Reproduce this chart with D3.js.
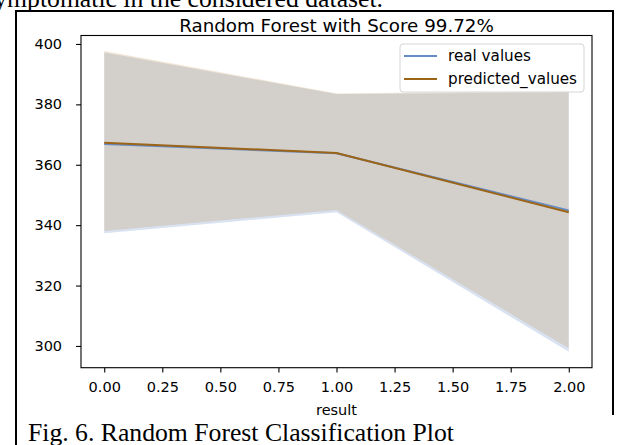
<!DOCTYPE html>
<html>
<head>
<meta charset="utf-8">
<script src="https://cdn.jsdelivr.net/npm/d3@7/dist/d3.min.js"></script>
<style>
  html, body { margin: 0; padding: 0; background: #fff; }
  svg { display: block; }
</style>
</head>
<body>
<svg id="chart" width="624" height="445"></svg>
<script>
// Class index on the x axis
const categories = [0, 1, 2];
// Mean values per class and their spread bands
const realValues = [366.9, 363.8, 344.9];
const predictedValues = [367.3, 363.9, 344.3];
const realLower = [337.3, 344.3, 298.1];
const realUpper = [397.2, 383.4, 384.0];
const predLower = [338.1, 345.0, 299.2];
const predUpper = [397.7, 383.6, 384.5];
// Tick labels
const xTicks = [0, 0.25, 0.5, 0.75, 1, 1.25, 1.5, 1.75, 2];
const yTicks = [300, 320, 340, 360, 380, 400];
const seriesNames = ["real values", "predicted_values"];

const svg = d3.select("#chart");
const sans = "DejaVu Sans, sans-serif";
const serif = "Liberation Serif, Times New Roman, serif";

// Running text of the page above and below the figure
svg.append("text")
  .attr("x", 383).attr("y", 7)
  .attr("text-anchor", "end")
  .attr("font-family", serif).attr("font-size", 25.7)
  .attr("fill", "#000")
  .text("symptomatic in the considered dataset.");

// Page frame around the figure
svg.append("path")
  .attr("d", "M16,445 V11 H613 V415")
  .attr("fill", "none").attr("stroke", "#000").attr("stroke-width", 2);

svg.append("text")
  .attr("x", 28).attr("y", 441)
  .attr("font-family", serif).attr("font-size", 25.7)
  .attr("fill", "#000")
  .text("Fig. 6. Random Forest Classification Plot");

// Plot area
const plotLeft = 81, plotRight = 592, plotTop = 35.5, plotBottom = 367.7;
const x = d3.scaleLinear().domain([-0.1, 2.1]).range([plotLeft, plotRight]);
const y = d3.scaleLinear().domain([292.8, 402.8]).range([plotBottom, plotTop]);

const band = (lo, hi) => d3.area()
  .x((d, i) => x(categories[i]))
  .y0((d, i) => y(lo[i]))
  .y1((d, i) => y(hi[i]));

const blue = "#668cc8";
const brown = "#9b6416";

svg.append("path")
  .datum(categories)
  .attr("d", band(realLower, realUpper))
  .attr("fill", "rgb(120,150,205)").attr("fill-opacity", 0.28);
svg.append("path")
  .datum(categories)
  .attr("d", band(predLower, predUpper))
  .attr("fill", "rgb(190,135,60)").attr("fill-opacity", 0.21);

const line = vals => d3.line()
  .x((d, i) => x(categories[i]))
  .y((d, i) => y(vals[i]));

svg.append("path").datum(categories)
  .attr("d", line(realValues))
  .attr("fill", "none").attr("stroke", blue).attr("stroke-width", 2);
svg.append("path").datum(categories)
  .attr("d", line(predictedValues))
  .attr("fill", "none").attr("stroke", brown).attr("stroke-width", 2);

// Axes
const xAxis = svg.append("g")
  .attr("transform", `translate(0,${plotBottom})`)
  .call(d3.axisBottom(x).tickValues(xTicks).tickFormat(d3.format(".2f"))
    .tickSize(4.9).tickPadding(9).tickSizeOuter(0));
const yAxis = svg.append("g")
  .attr("transform", `translate(${plotLeft},0)`)
  .call(d3.axisLeft(y).tickValues(yTicks).tickFormat(d3.format("d"))
    .tickSize(4.9).tickPadding(14).tickSizeOuter(0));

[xAxis, yAxis].forEach(g => {
  g.select(".domain").remove();
  g.selectAll("line").attr("stroke", "#000").attr("stroke-width", 1.1);
  g.selectAll("text").attr("font-family", sans).attr("font-size", 14.5).attr("fill", "#000");
});

// Axes frame
svg.append("rect")
  .attr("x", plotLeft).attr("y", plotTop)
  .attr("width", plotRight - plotLeft).attr("height", plotBottom - plotTop)
  .attr("fill", "none").attr("stroke", "#000").attr("stroke-width", 1.1);

// Titles
svg.append("text")
  .attr("x", (plotLeft + plotRight) / 2).attr("y", 32)
  .attr("text-anchor", "middle")
  .attr("font-family", sans).attr("font-size", 18.3).attr("fill", "#000")
  .text("Random Forest with Score 99.72%");

svg.append("text")
  .attr("x", (plotLeft + plotRight) / 2).attr("y", 415)
  .attr("text-anchor", "middle")
  .attr("font-family", sans).attr("font-size", 14.5).attr("fill", "#000")
  .text("result");

// Legend
const legend = svg.append("g");
legend.append("rect")
  .attr("x", 400).attr("y", 44).attr("width", 184).attr("height", 48)
  .attr("rx", 3)
  .attr("fill", "#fff").attr("fill-opacity", 0.8)
  .attr("stroke", "#d6d6d6").attr("stroke-width", 1);
[blue, brown].forEach((c, i) => {
  const ly = 56 + i * 23;
  legend.append("line")
    .attr("x1", 404).attr("x2", 437).attr("y1", ly).attr("y2", ly)
    .attr("stroke", c).attr("stroke-width", 2);
  legend.append("text")
    .attr("x", 448).attr("y", ly + 5.3)
    .attr("font-family", sans).attr("font-size", 15.2).attr("fill", "#000")
    .text(seriesNames[i]);
});
</script>
</body>
</html>
